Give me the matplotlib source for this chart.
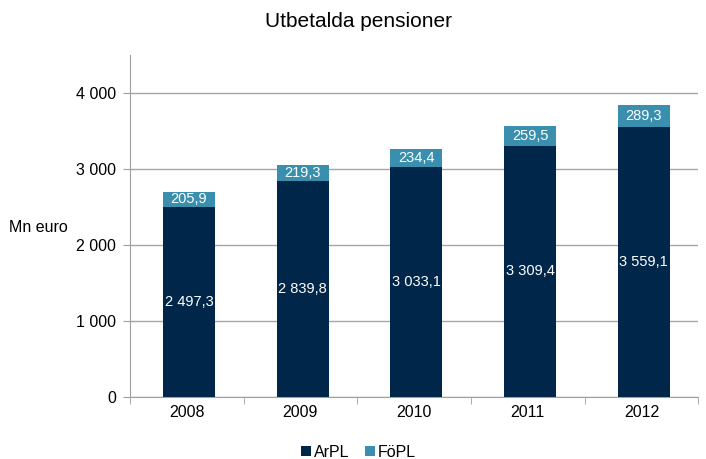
import matplotlib.pyplot as plt
import numpy as np

years = ['2008', '2009', '2010', '2011', '2012']
arpl = [2497.3, 2839.8, 3033.1, 3309.4, 3559.1]
fopl = [205.9, 219.3, 234.4, 259.5, 289.3]

def fmt(v, dec=1):
    s = f'{v:,.{dec}f}'
    return s.replace(',', ' ').replace('.', ',')

plt.rcParams['font.family'] = ['Liberation Sans', 'DejaVu Sans']

fig = plt.figure(figsize=(7.06, 4.59), dpi=100)
ax = fig.add_axes([0.184, 0.135, 0.805, 0.745])

x = np.arange(len(years))
navy = '#00264a'
teal = '#3a8fae'
b1 = ax.bar(x + 0.02, arpl, 0.46, color=navy, label='ArPL', zorder=3)
b2 = ax.bar(x + 0.02, fopl, 0.46, bottom=arpl, color=teal, label='FöPL', zorder=3)

for i in range(len(years)):
    ax.text(x[i] + 0.02, arpl[i] / 2, fmt(arpl[i]), ha='center', va='center', color='white', fontsize=10.5, zorder=4)
    ax.text(x[i] + 0.02, arpl[i] + fopl[i] / 2, fmt(fopl[i]), ha='center', va='center', color='white', fontsize=10.5, zorder=4)

ax.set_xlim(-0.5, len(years) - 0.5)
ax.set_ylim(0, 4500)
ax.set_yticks([0, 1000, 2000, 3000, 4000])
ax.set_yticklabels([fmt(v, 0) for v in [0, 1000, 2000, 3000, 4000]], fontsize=11.5)
ax.set_xticks(x)
ax.set_xticklabels(years, fontsize=11.5)
ax.tick_params(axis='x', length=0, pad=6)
ax.set_xticks(np.arange(-0.5, len(years)), minor=True)
ax.tick_params(axis='x', which='minor', length=5, color='#a0a0a0')
ax.tick_params(axis='y', length=5, color='#a0a0a0', pad=5)

ax.grid(axis='y', color='#a6a6a6', linewidth=1, zorder=0)
for s in ['top', 'right']:
    ax.spines[s].set_visible(False)
ax.spines['left'].set_color('#a0a0a0')
ax.spines['bottom'].set_color('#a0a0a0')

fig.text(0.013, 0.505, 'Mn euro', fontsize=11.5, va='center', ha='left')
fig.text(0.508, 0.953, 'Utbetalda pensioner', fontsize=15, ha='center', va='center')

fig.legend(handles=[b1, b2], loc='center', bbox_to_anchor=(0.508, 0.015), ncol=2, frameon=False,
           fontsize=11.5, handlelength=0.6, handleheight=0.6, handletextpad=0.2, columnspacing=1.0)

plt.savefig('out.png', dpi=100)
